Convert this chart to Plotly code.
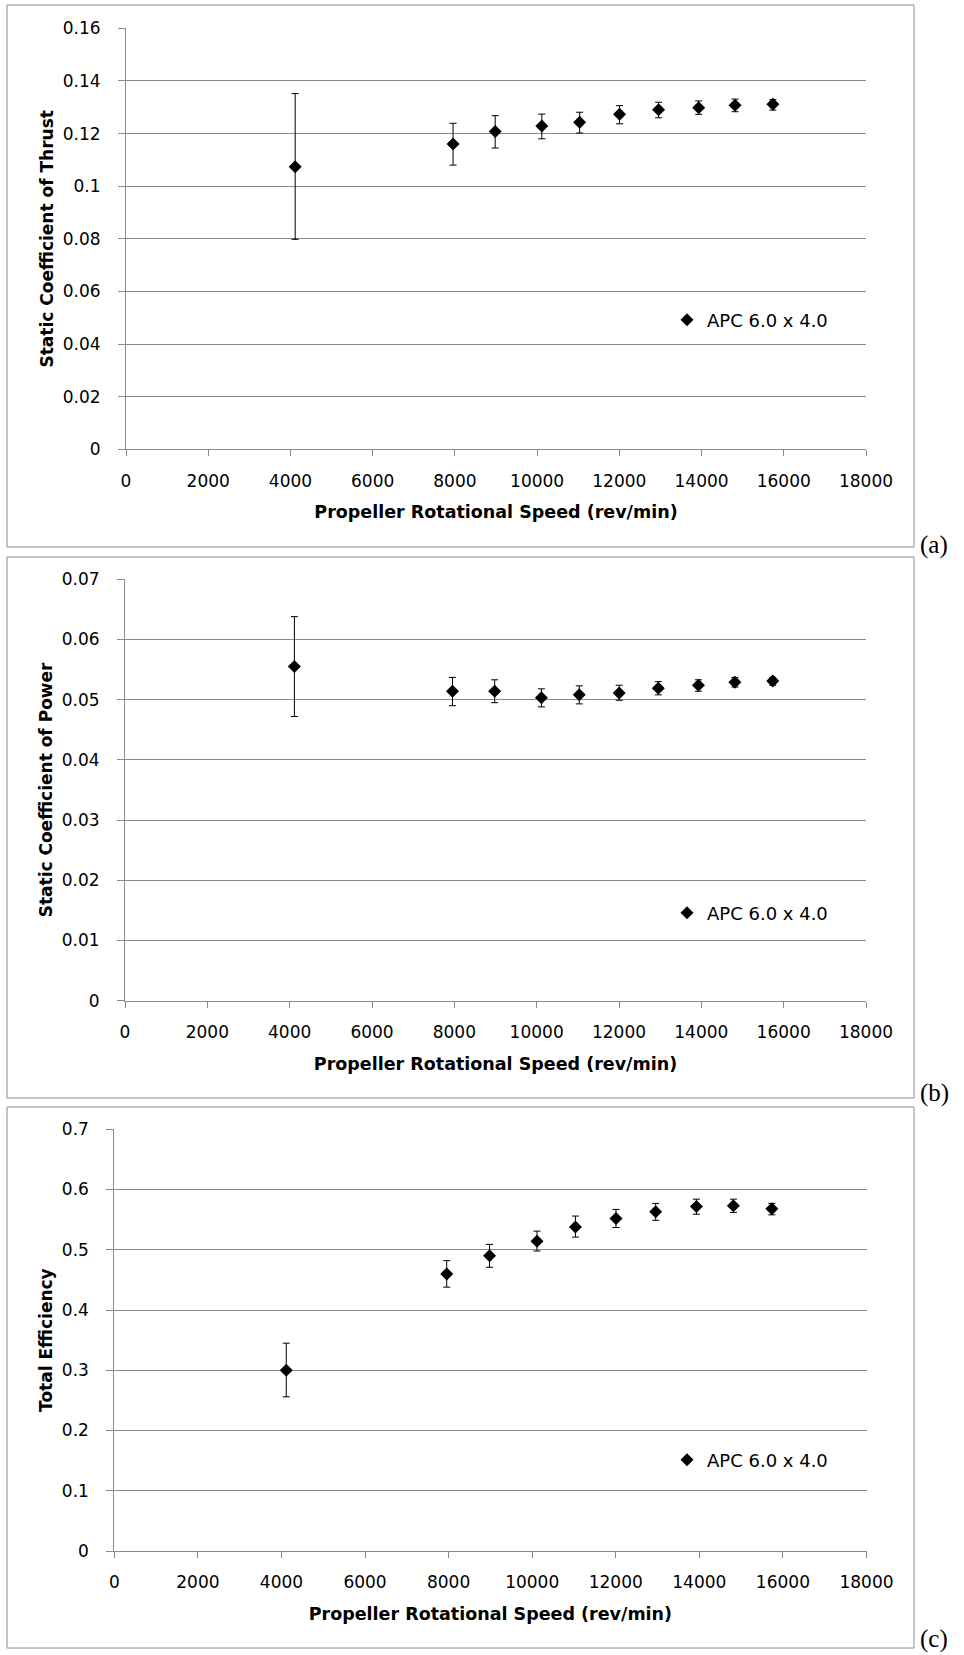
import plotly.graph_objects as go

# Propeller test data, APC 6.0 x 4.0
rpm = [4115, 7955, 8980, 10115, 11035, 12005, 12955, 13930, 14815, 15735]

ct = [0.1074, 0.1160, 0.1208, 0.1229, 0.1243, 0.1273, 0.1290, 0.1298, 0.1308, 0.1311]
ct_hi = [0.1352, 0.1239, 0.1268, 0.1274, 0.1281, 0.1306, 0.1319, 0.1324, 0.1331, 0.1329]
ct_lo = [0.0798, 0.1080, 0.1145, 0.1180, 0.1202, 0.1237, 0.1260, 0.1273, 0.1283, 0.1289]

cp = [0.0555, 0.0514, 0.0514, 0.0503, 0.0508, 0.0511, 0.0519, 0.0524, 0.0529, 0.0531]
cp_hi = [0.0638, 0.0537, 0.0533, 0.0518, 0.0523, 0.0524, 0.0530, 0.0533, 0.0537, 0.0537]
cp_lo = [0.0472, 0.0490, 0.0495, 0.0488, 0.0493, 0.0499, 0.0508, 0.0514, 0.0521, 0.0524]

eff = [0.300, 0.460, 0.490, 0.514, 0.538, 0.552, 0.563, 0.572, 0.573, 0.568]
eff_hi = [0.345, 0.482, 0.509, 0.531, 0.556, 0.567, 0.577, 0.584, 0.584, 0.577]
eff_lo = [0.256, 0.438, 0.471, 0.498, 0.521, 0.537, 0.549, 0.559, 0.562, 0.558]

x_ticks = [0, 2000, 4000, 6000, 8000, 10000, 12000, 14000, 16000, 18000]
x_labels = ["0", "2000", "4000", "6000", "8000", "10000", "12000", "14000", "16000", "18000"]
ct_ticks = [0, 0.02, 0.04, 0.06, 0.08, 0.1, 0.12, 0.14, 0.16]
ct_labels = ["0", "0.02", "0.04", "0.06", "0.08", "0.1", "0.12", "0.14", "0.16"]
cp_ticks = [0, 0.01, 0.02, 0.03, 0.04, 0.05, 0.06, 0.07]
cp_labels = ["0", "0.01", "0.02", "0.03", "0.04", "0.05", "0.06", "0.07"]
eff_ticks = [0, 0.1, 0.2, 0.3, 0.4, 0.5, 0.6, 0.7]
eff_labels = ["0", "0.1", "0.2", "0.3", "0.4", "0.5", "0.6", "0.7"]

W, H = 964, 1655
GRID = '#8a8a8a'
x_title = "Propeller Rotational Speed (rev/min)"


def px(x):
    return x / W


def py(y):
    return 1 - y / H


panels = [
    # y values, upper, lower, y ticks, y labels, y title, plot box (left, top, right, bottom),
    # frame (top, bottom), tag, tag y, legend y   -- all in page pixels
    (ct, ct_hi, ct_lo, ct_ticks, ct_labels, "Static Coefficient of Thrust",
     (126, 28.3, 866, 449.3), (5, 547), "(a)", 545, 320),
    (cp, cp_hi, cp_lo, cp_ticks, cp_labels, "Static Coefficient of Power",
     (125, 579.3, 866, 1000.6), (557, 1098), "(b)", 1093, 913),
    (eff, eff_hi, eff_lo, eff_ticks, eff_labels, "Total Efficiency",
     (114.3, 1129.3, 866.5, 1551), (1107, 1648), "(c)", 1639, 1460),
]

fig = go.Figure()
shapes = []
annotations = []
layout = {}

for i, (yv, hi, lo, yt, yl, ytitle, box, frame, tag, tag_y, leg_y) in enumerate(panels):
    n = "" if i == 0 else str(i + 1)
    leg = "legend" + n
    fig.add_trace(go.Scatter(
        x=rpm, y=yv, mode='markers', name="APC 6.0 x 4.0",
        marker=dict(symbol='diamond', size=10, color='black'),
        error_y=dict(type='data', symmetric=False,
                     array=[h - v for h, v in zip(hi, yv)],
                     arrayminus=[v - l for v, l in zip(yv, lo)],
                     color='black', thickness=1, width=3.5),
        xaxis='x' + n, yaxis='y' + n, legend=leg, showlegend=True,
    ))
    left, top, right, bottom = box
    layout['xaxis' + n] = dict(
        domain=[px(left), px(right)], anchor='y' + n, automargin=False,
        range=[0, 18000], tickvals=x_ticks, ticktext=x_labels,
        showgrid=False, zeroline=False, showline=True, linecolor=GRID, linewidth=1,
        ticks='outside', ticklen=6, tickcolor=GRID, ticklabelstandoff=10,
        tickfont=dict(family='DejaVu Sans', size=17, color='black'),
        title=dict(text=x_title, standoff=16,
                   font=dict(family='DejaVu Sans', size=17.5, color='black', weight='bold')),
    )
    layout['yaxis' + n] = dict(
        domain=[py(bottom), py(top)], anchor='x' + n, automargin=False,
        range=[0, yt[-1]], tickvals=yt, ticktext=yl,
        showgrid=True, gridcolor=GRID, gridwidth=1, zeroline=False,
        showline=True, linecolor=GRID, linewidth=1,
        ticks='outside', ticklen=7, tickcolor=GRID, ticklabelstandoff=14,
        tickfont=dict(family='DejaVu Sans', size=17, color='black'),
        title=dict(text=ytitle, standoff=4,
                   font=dict(family='DejaVu Sans', size=17, color='black', weight='bold')),
    )
    layout[leg] = dict(
        x=px(667), y=py(leg_y), xanchor='left', yanchor='middle',
        bgcolor='rgba(0,0,0,0)', borderwidth=0,
        font=dict(family='DejaVu Sans', size=18, color='black'),
    )
    shapes.append(dict(type='rect', xref='paper', yref='paper',
                       x0=px(7), x1=px(914), y0=py(frame[1]), y1=py(frame[0]),
                       line=dict(color='#8c8c8c', width=1)))
    annotations.append(dict(text=tag, xref='paper', yref='paper', showarrow=False,
                            x=px(918), y=py(tag_y), xanchor='left', yanchor='middle',
                            font=dict(family='Liberation Serif', size=25, color='black')))

fig.update_layout(
    width=W, height=H,
    margin=dict(l=0, r=0, t=0, b=0, autoexpand=False),
    paper_bgcolor='white', plot_bgcolor='white',
    shapes=shapes, annotations=annotations,
    **layout,
)

# keep the page exactly the figure size (no body margin / scrollbars)
fig.write_html("out.html", config={'displayModeBar': False},
               post_script="document.body.style.margin='0';document.body.style.overflow='hidden';")
